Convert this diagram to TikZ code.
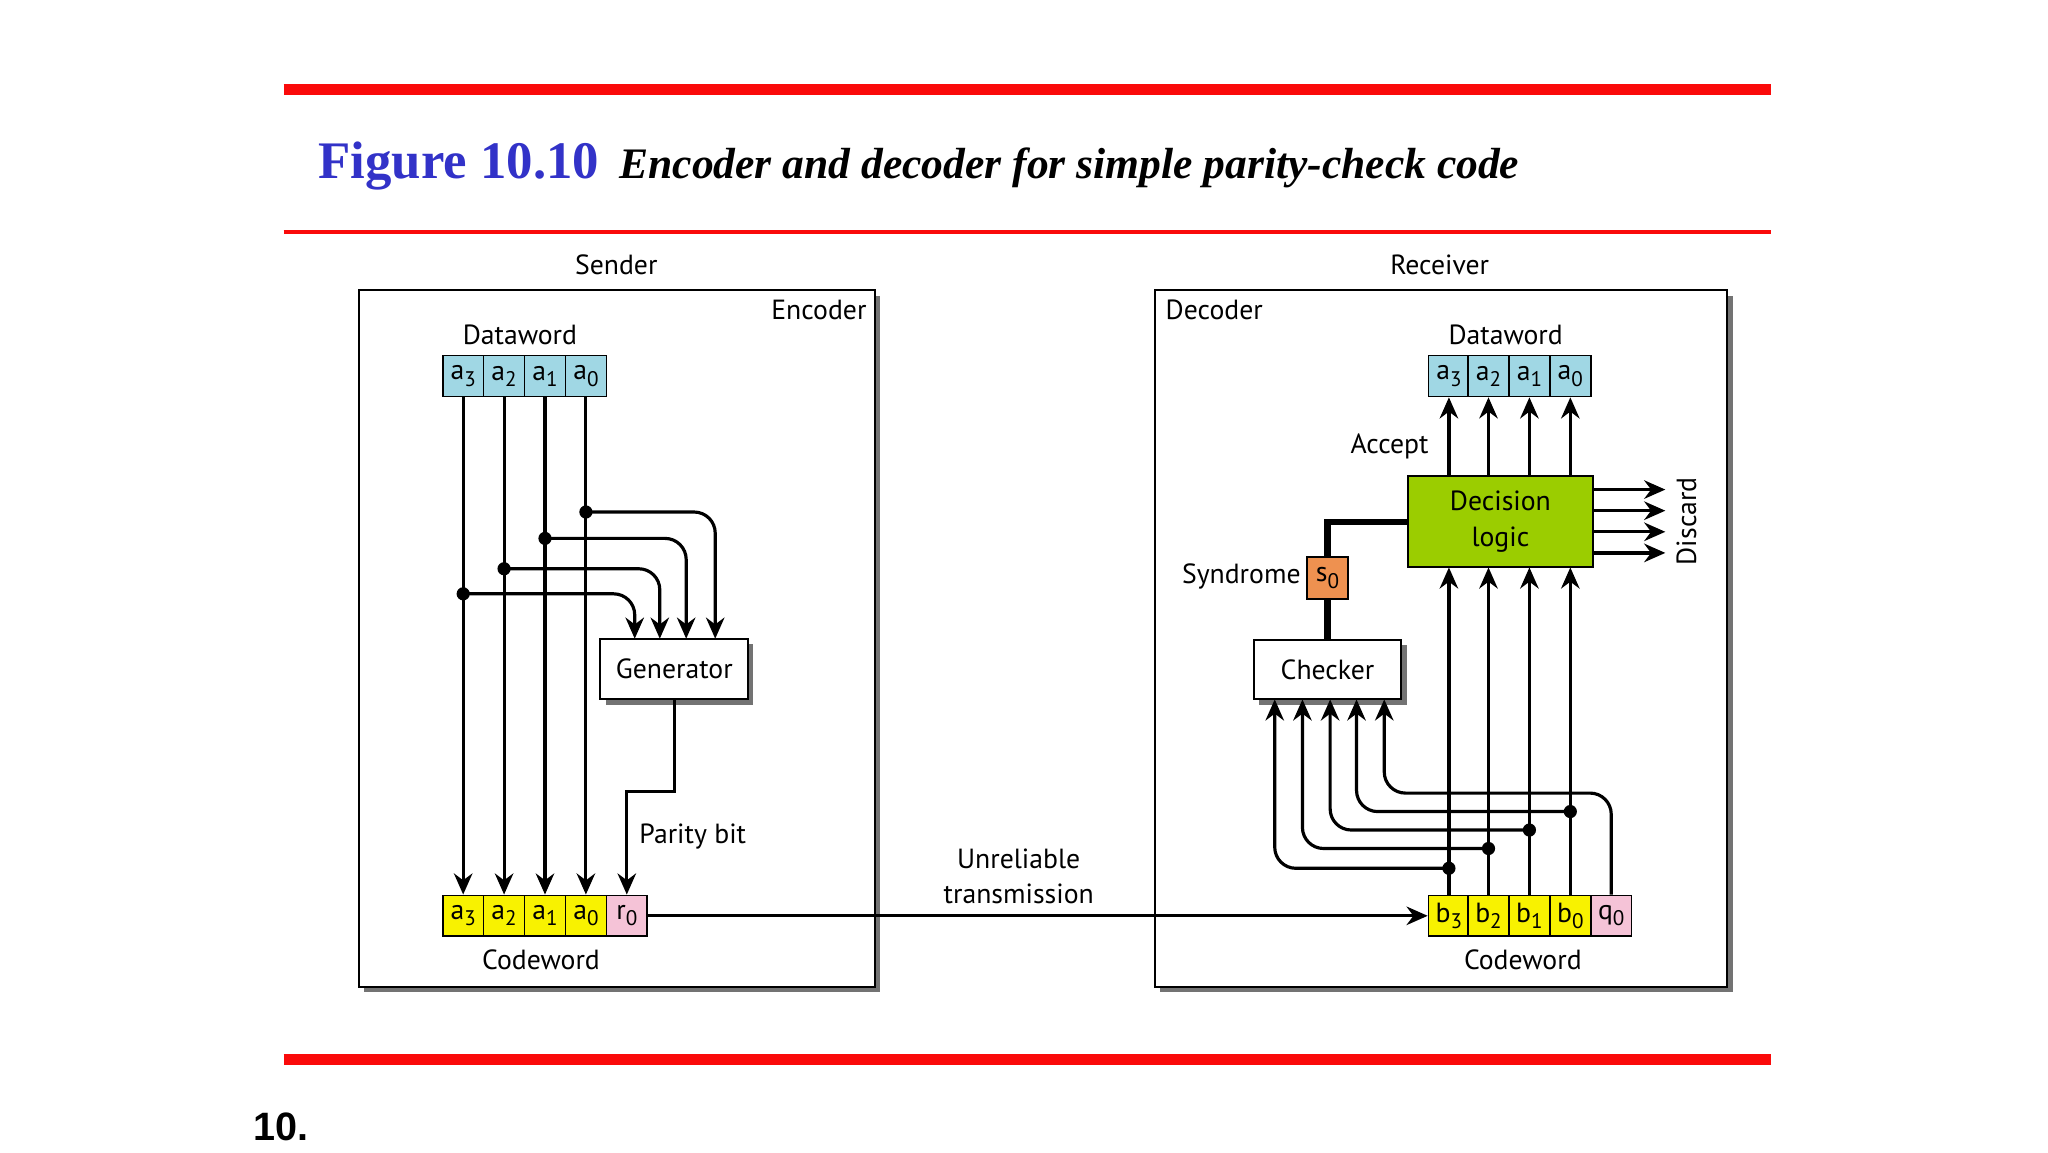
\documentclass[tikz,border=0pt]{standalone}
\usepackage{fontspec}
\setmainfont{PT Sans}
\newfontfamily\tnr{Liberation Serif}
\newfontfamily\arl{Liberation Sans}
\usetikzlibrary{arrows.meta}
\definecolor{redl}{RGB}{250,10,10}
\definecolor{titleb}{RGB}{50,50,200}
\definecolor{cblue}{RGB}{160,215,228}
\definecolor{cyel}{RGB}{248,242,0}
\definecolor{cpink}{RGB}{245,195,215}
\definecolor{cgreen}{RGB}{155,205,0}
\definecolor{corange}{RGB}{238,145,80}
\newcommand{\sbs}[2]{#1\raisebox{-0.45ex}{\footnotesize #2}}
\begin{document}
\begin{tikzpicture}[x=0.5pt,y=-0.5pt,
  lbl/.style={font=\fontsize{10.5}{12}\selectfont, inner sep=0},
  cell/.style={draw, line width=0.6pt, minimum width=15.5pt, minimum height=15.5pt, inner sep=0, font=\fontsize{10.5}{12}\selectfont},
  box/.style={draw, line width=0.8pt, fill=white, inner sep=0, font=\fontsize{10.5}{12}\selectfont},
  sh/.style={fill=black!55},
  wire/.style={line width=1.2pt, rounded corners=8pt},
  arr/.style={wire, -{Stealth[length=8pt,width=7pt]}},
  dot/.style={circle, fill=black, inner sep=0, minimum size=5pt}]
\useasboundingbox (0,0) rectangle (1552,873);
% red rules
\draw[redl, line width=4pt] (215,68) -- (1342,68);
\draw[redl, line width=1.5pt] (215,176) -- (1342,176);
\draw[redl, line width=4pt] (215,803) -- (1342,803);
% title
\node[anchor=base west, inner sep=0, text=titleb, font=\tnr\bfseries\fontsize{20}{24}\selectfont] (t1) at (241,135) {Figure 10.10};
\node[anchor=base west, inner sep=0, font=\tnr\bfseries\itshape\fontsize{16.5}{20}\selectfont] (t2) at (469,135) {Encoder and decoder for simple parity-check code};
\node[anchor=base west, inner sep=0, font=\arl\bfseries\fontsize{15}{18}\selectfont] (num) at (192,864) {10.};
% outer boxes with shadows
\fill[sh] (276,224) rectangle (667,752);
\draw[fill=white, line width=0.8pt] (272,220) rectangle (663,748);
\fill[sh] (879,224) rectangle (1313,752);
\draw[fill=white, line width=0.8pt] (875,220) rectangle (1309,748);
\node[lbl] (snd) at (467,201) {Sender};
\node[lbl] (rcv) at (1091,201) {Receiver};
\node[lbl, anchor=north east] (enc) at (657,227) {Encoder};
\node[lbl, anchor=north west] (dec) at (883,227) {Decoder};
% ---------- Sender ----------
\node[lbl] (dwl) at (394,254) {Dataword};
\foreach \n/\x/\i in {d3/351/3,d2/382/2,d1/413/1,d0/444/0}
  \node[cell, fill=cblue] (\n) at (\x,285) {\sbs{a}{\i}};
\foreach \n/\x/\i in {c3/351/3,c2/382/2,c1/413/1,c0/444/0}
  \node[cell, fill=cyel] (\n) at (\x,694) {\sbs{a}{\i}};
\node[cell, fill=cpink] (r0) at (475,694) {\sbs{r}{0}};
\node[lbl] (cwl) at (410,727) {Codeword};
\fill[sh] (459,488) rectangle (571,534);
\node[box, minimum width=56pt, minimum height=23pt] (gen) at (511,507) {Generator};
\foreach \a/\b in {d3/c3,d2/c2,d1/c1,d0/c0}
  \draw[arr] (\a.south) -- (\b.north);
\node[dot] (p0) at (444,388) {};
\node[dot] (p1) at (413,408) {};
\node[dot] (p2) at (382,431) {};
\node[dot] (p3) at (351,450) {};
\draw[arr] (p0.center) -| (542,484);
\draw[arr] (p1.center) -| (520,484);
\draw[arr] (p2.center) -| (500,484);
\draw[arr] (p3.center) -| (481,484);
\draw[arr, rounded corners=0pt] (gen.south) |- (475,600) -- (r0.north);
\node[lbl] (pb) at (525,634) {Parity bit};
% transmission
\node[cell, fill=cyel] (b3) at (1098,694) {\sbs{b}{3}};
\node[cell, fill=cyel] (b2) at (1128,694) {\sbs{b}{2}};
\node[cell, fill=cyel] (b1) at (1159,694) {\sbs{b}{1}};
\node[cell, fill=cyel] (b0) at (1190,694) {\sbs{b}{0}};
\node[cell, fill=cpink] (q0) at (1221,694) {\sbs{q}{0}};
\draw[arr] (r0.east) -- (b3.west);
\node[lbl, align=center, font=\fontsize{10.5}{13.5}\selectfont] (ut) at (772,664) {Unreliable\\transmission};
% ---------- Receiver ----------
\node[lbl] (cwr) at (1154,727) {Codeword};
\node[lbl] (dwr) at (1141,254) {Dataword};
\node[cell, fill=cblue] (e3) at (1098,285) {\sbs{a}{3}};
\node[cell, fill=cblue] (e2) at (1128,285) {\sbs{a}{2}};
\node[cell, fill=cblue] (e1) at (1159,285) {\sbs{a}{1}};
\node[cell, fill=cblue] (e0) at (1190,285) {\sbs{a}{0}};
\node[box, fill=cgreen, minimum width=70pt, minimum height=34.5pt, align=center, font=\fontsize{10.5}{13.5}\selectfont] (dl) at (1137,395.5) {Decision\\logic};
\node[lbl] (acc) at (1053,338) {Accept};
\foreach \x/\e/\b in {1098/e3/b3,1128/e2/b2,1159/e1/b1,1190/e0/b0}{
  \draw[arr] (\x,361) -- (\e.south);
  \draw[arr] (\b.north) -- (\x,430);
}
\foreach \y [count=\k] in {371,387,403,419}{
  \coordinate (dd\k) at (1262,\y);
  \draw[arr] (1207,\y) -- (dd\k);
}
\node[lbl, rotate=90] (disc) at (1278,395) {Discard};
\fill[sh] (954,489) rectangle (1066,534);
\node[box, minimum width=56pt, minimum height=22.5pt] (chk) at (1006,507.5) {Checker};
\node[cell, fill=corange, minimum height=16pt] (s0) at (1006,438) {\sbs{s}{0}};
\node[lbl, anchor=east] (syn) at (986,437) {Syndrome};
\draw[line width=2.5pt] (s0.north) |- (dl.west);
\draw[line width=2.5pt] (s0.south) -- (chk.north);
\node[dot] (g3) at (1098,658) {};
\node[dot] (g2) at (1128,643) {};
\node[dot] (g1) at (1159,629) {};
\node[dot] (g0) at (1190,615) {};
\draw[arr] (g3.center) -| (966,530);
\draw[arr] (g2.center) -| (987,530);
\draw[arr] (g1.center) -| (1008,530);
\draw[arr] (g0.center) -| (1028,530);
\draw[arr] (q0.north) |- (1130,601) -| (1049,530);
\end{tikzpicture}
\end{document}
